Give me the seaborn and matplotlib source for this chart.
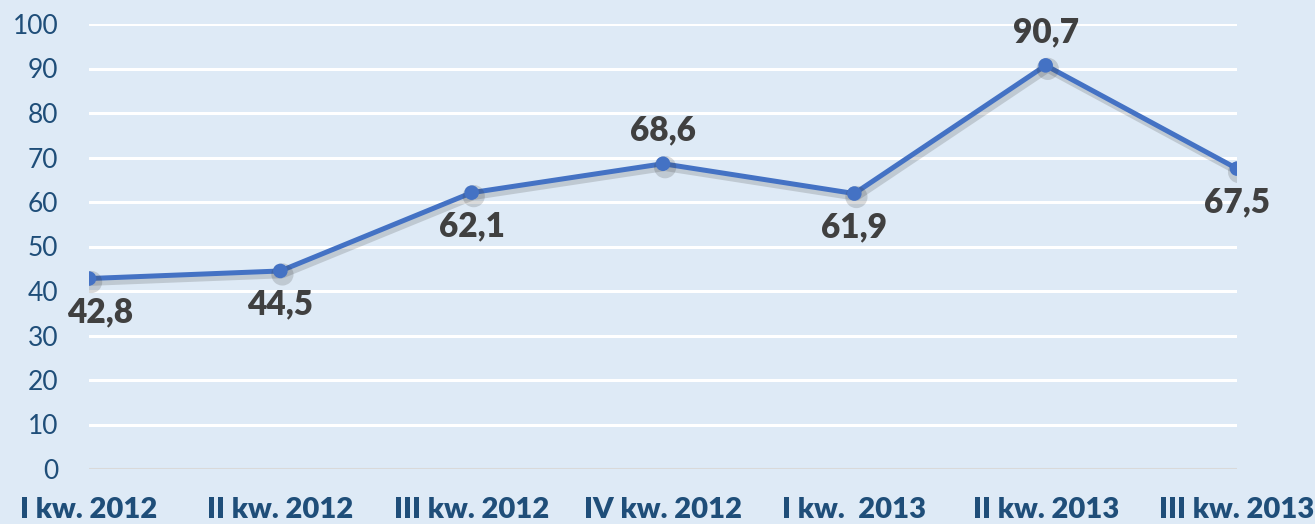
import matplotlib
matplotlib.use("Agg")
import matplotlib.pyplot as plt
import matplotlib.patheffects as pe
import seaborn as sns
import pandas as pd

categories = ["I kw. 2012", "II kw. 2012", "III kw. 2012", "IV kw. 2012",
              "I kw.  2013", "II kw. 2013", "III kw. 2013"]
values = [42.8, 44.5, 62.1, 68.6, 61.9, 90.7, 67.5]
labels = ["42,8", "44,5", "62,1", "68,6", "61,9", "90,7", "67,5"]
label_pos = ["below", "below", "below", "above", "below", "above", "below"]
yticks = [0, 10, 20, 30, 40, 50, 60, 70, 80, 90, 100]

sns.set_theme(style="white")
plt.rcParams["font.family"] = ["Lato", "DejaVu Sans"]

bg = "#DEEAF6"
fig = plt.figure(figsize=(13.15, 5.24), dpi=100, facecolor=bg)
ax = fig.add_axes([89/1315, 55/524, (1237-89)/1315, (469-24)/524])
ax.set_facecolor(bg)

df = pd.DataFrame({"idx": range(len(categories)), "val": values})
sns.lineplot(data=df, x="idx", y="val", ax=ax, color="#4472C4", linewidth=3.6,
             marker="o", markersize=10.5, markeredgewidth=0, zorder=3,
             path_effects=[pe.SimpleLineShadow(offset=(1.5, -2.5), shadow_color="#333333",
                                               alpha=0.18, linewidth=5.5),
                           pe.Normal()])

for i, (v, t, p) in enumerate(zip(values, labels, label_pos)):
    dy = 24 if p == "above" else -24
    dx = 8 if i == 0 else 0
    ax.annotate(t, (i, v), xytext=(dx, dy), textcoords="offset points",
                ha="center", va="center", fontsize=24, fontweight="heavy",
                color="#404040", zorder=4)

ax.set_xlim(0, len(categories) - 1)
ax.set_ylim(0, 100)
ax.set_yticks(yticks)
ax.set_yticklabels([str(y) for y in yticks], fontsize=19, color="#1F4E79")
ax.set_xticks(range(len(categories)))
ax.set_xticklabels(categories, fontsize=21, fontweight="heavy", color="#1F4E79")
ax.tick_params(axis="y", length=0, pad=22)
ax.tick_params(axis="x", length=0, pad=20)
ax.set_xlabel("")
ax.set_ylabel("")

for y in yticks:
    ax.axhline(y, color="#D9D9D9" if y == 0 else "white", linewidth=2.2, zorder=1)
for s in ax.spines.values():
    s.set_visible(False)

fig.savefig("out.png", dpi=100, facecolor=bg)
